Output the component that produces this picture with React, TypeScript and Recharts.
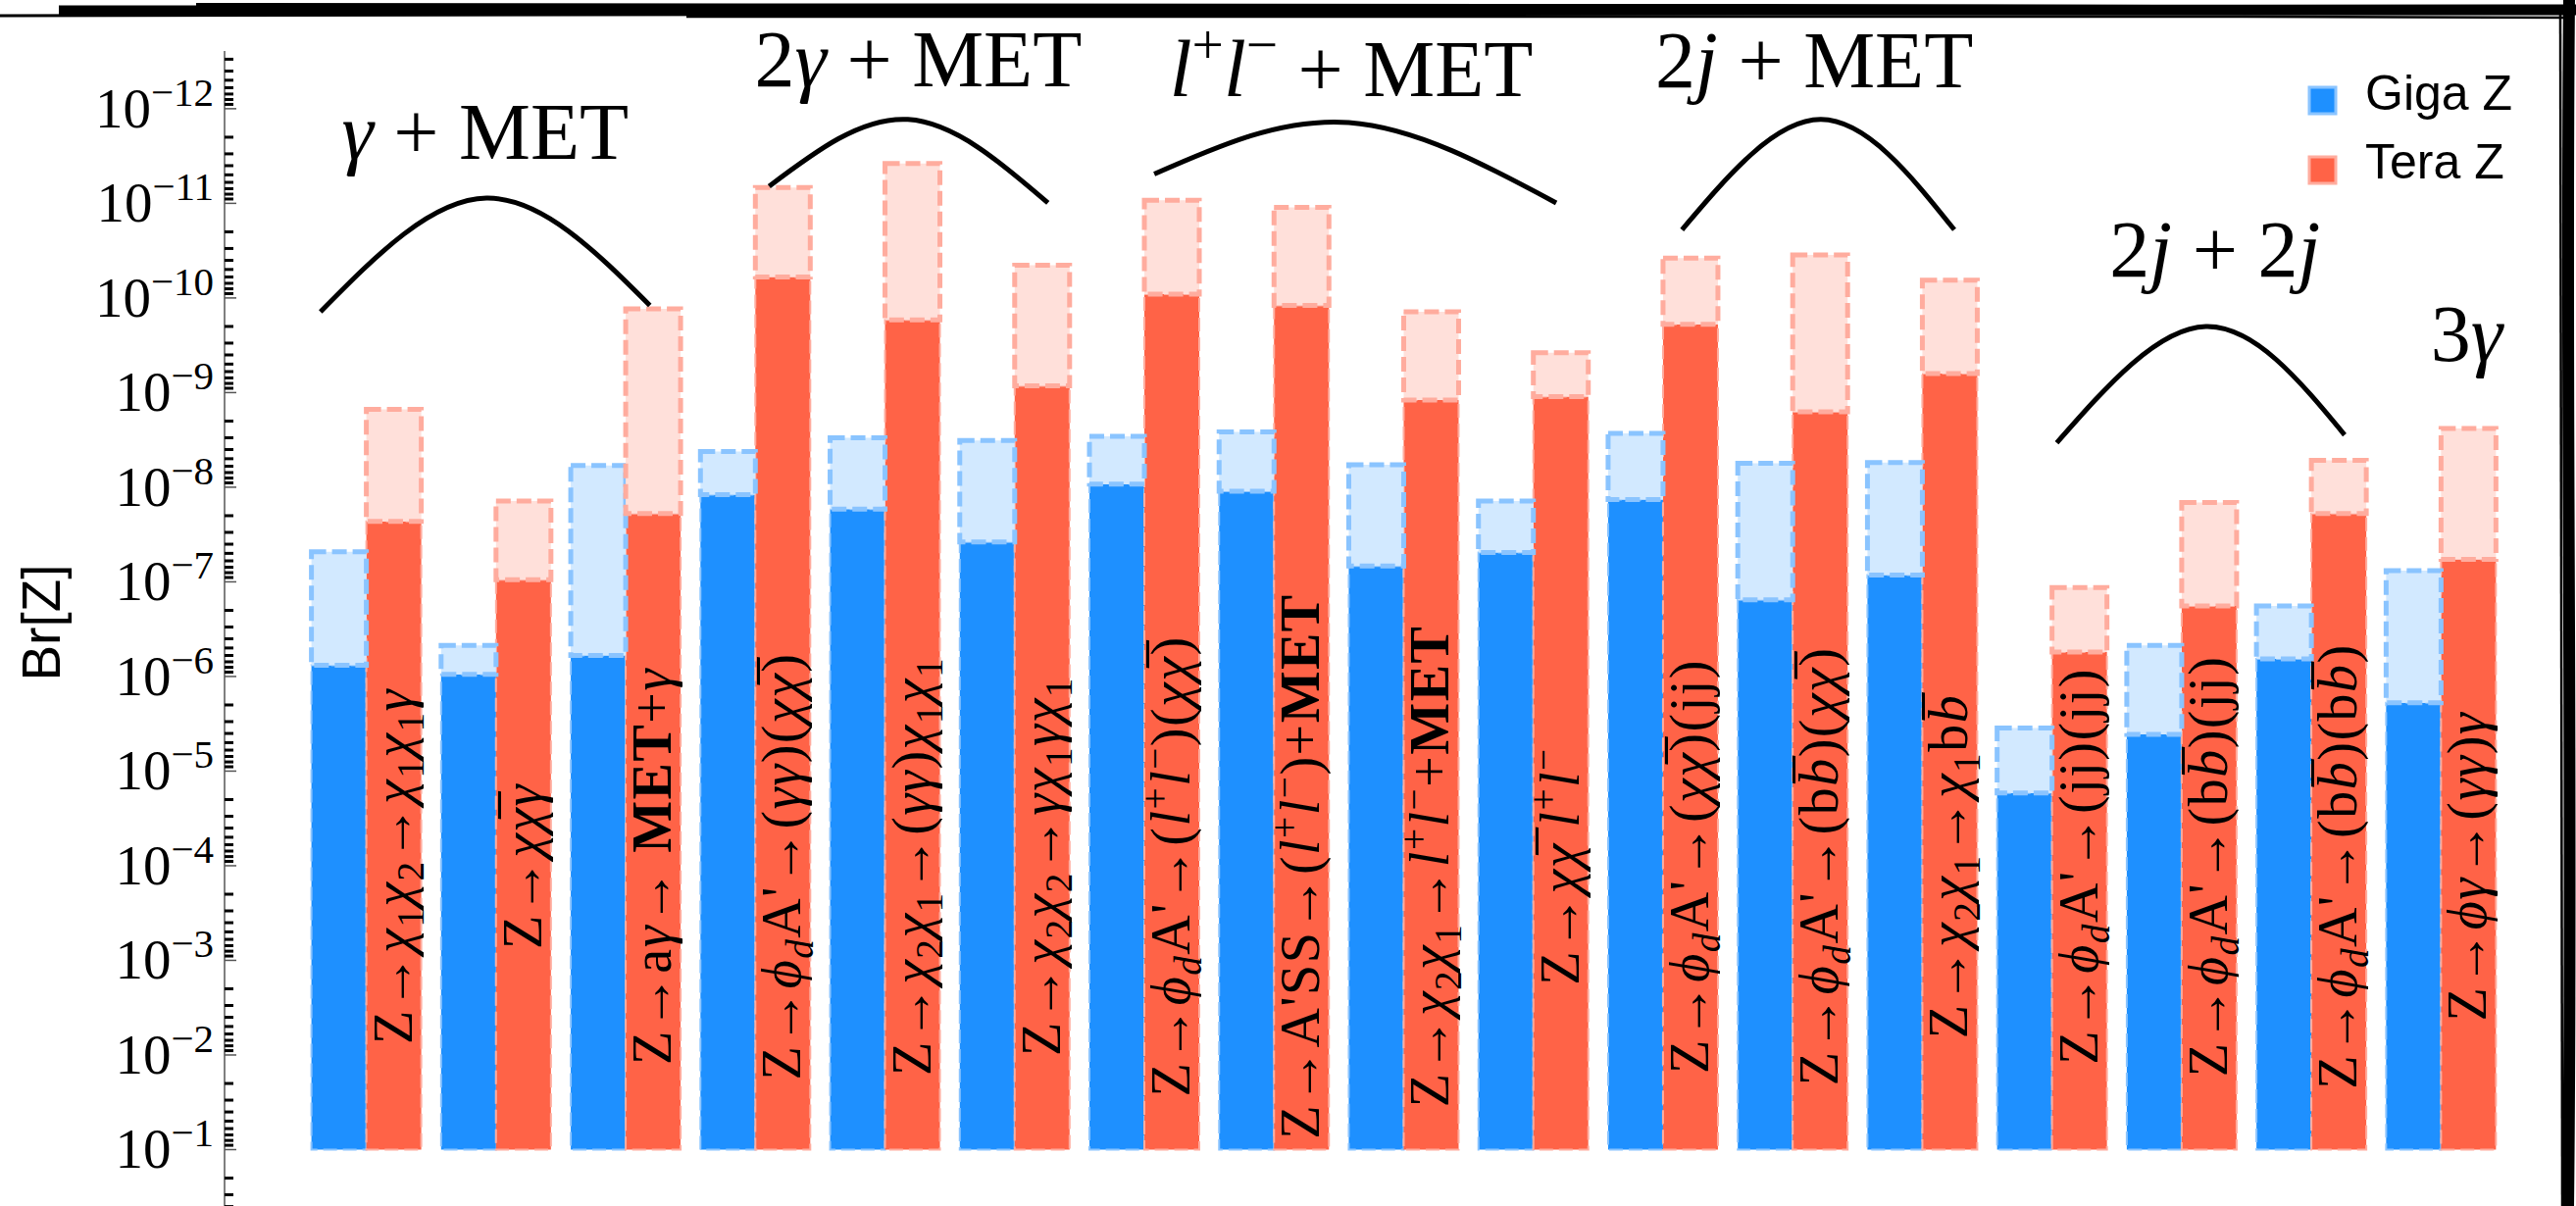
import React from "react";
import { ComposedChart, Bar, Line, Scatter, XAxis, YAxis, Legend, LabelList } from "recharts";

// decay channels; "_x" sub, "^x" sup, "~x" overline, "$..$" italic, "#..#" bold
const categories = [
  "Z→χ_1χ_2→χ_1χ_1γ",
  "Z→χ~χγ",
  "Z→aγ→ #MET#+γ",
  "Z→ϕ_dA'→(γγ)(χ~χ)",
  "Z→χ_2χ_1→(γγ)χ_1χ_1",
  "Z→χ_2χ_2→γχ_1γχ_1",
  "Z→ϕ_dA'→($l$^+$l$^−)(χ~χ)",
  "Z→A'SS→($l$^+$l$^−)+#MET#",
  "Z→χ_2χ_1→$l$^+$l$^−+#MET#",
  "Z→χ~χ $l$^+$l$^−",
  "Z→ϕ_dA'→(χ~χ)(jj)",
  "Z→ϕ_dA'→(b$~b$)(χ~χ)",
  "Z→χ_2χ_1→χ_1b$~b$",
  "Z→ϕ_dA'→(jj)(jj)",
  "Z→ϕ_dA'→(b$~b$)(jj)",
  "Z→ϕ_dA'→(b$~b$)(b$~b$)",
  "Z→ϕγ→(γγ)γ",
];

// solid part and dashed (lighter) reach, Br values
const gigaZ = [7.6e-7, 9.5e-7, 6.0e-7, 1.2e-8, 1.7e-8, 3.8e-8, 9.3e-9, 1.1e-8, 6.8e-8, 4.9e-8, 1.35e-8, 1.55e-7, 8.5e-8, 1.7e-5, 4.1e-6, 6.5e-7, 1.9e-6];
const gigaZReach = [4.8e-8, 4.7e-7, 5.9e-9, 4.2e-9, 3.0e-9, 3.2e-9, 2.9e-9, 2.6e-9, 5.8e-9, 1.4e-8, 2.7e-9, 5.6e-9, 5.5e-9, 3.5e-6, 4.7e-7, 1.8e-7, 7.6e-8];
const teraZ = [2.3e-8, 9.5e-8, 1.9e-8, 6.0e-11, 1.7e-10, 8.5e-10, 9.1e-11, 1.2e-10, 1.2e-9, 1.1e-9, 1.9e-10, 1.6e-9, 6.3e-10, 5.5e-7, 1.8e-7, 1.9e-8, 5.8e-8];
const teraZReach = [1.5e-9, 1.4e-8, 1.3e-10, 6.8e-12, 3.8e-12, 4.5e-11, 9.3e-12, 1.1e-11, 1.4e-10, 3.8e-10, 3.8e-11, 3.5e-11, 6.5e-11, 1.15e-7, 1.45e-8, 5.2e-9, 2.4e-9];
const barFloor = 0.1;

const tickExponents = [1, 2, 3, 4, 5, 6, 7, 8, 9, 10, 11, 12];
const brTop = Math.pow(10, -12.61);
const brBottom = 1;

// group brackets, x in category units
const groupNames = ["γ + MET", "2γ + MET", "$l$^+$l$^− + MET", "2$j$ + MET", "2$j$ + 2$j$", "3γ"];
const groupPos = [0.92, 4.26, 7.6, 11.17, 14.26, 16.2];
const groupBr = [3.4e-12, 5.8e-13, 7.3e-13, 6.0e-13, 6.0e-11, 4.6e-10];
const arcPos = [
  [-0.35, 0.93, 2.19],
  [3.11, 4.18, 5.26],
  [6.08, 7.58, 9.18],
  [10.15, 11.22, 12.25],
  [13.04, 14.19, 15.26],
];
const arcBr = [
  [1.4e-10, 8.8e-12, 1.2e-10],
  [6.6e-12, 1.3e-12, 9.9e-12],
  [4.9e-12, 1.4e-12, 9.9e-12],
  [1.9e-11, 1.3e-12, 1.9e-11],
  [3.4e-9, 2.0e-10, 2.8e-9],
];

const BLUE = "#1E90FF";
const RED = "#FF6347";
const BLUE_LIGHT = "#D2E9FF";
const RED_LIGHT = "#FFE0DA";
const BLUE_EDGE = "#8AC4FF";
const RED_EDGE = "#FFAC9E";
const SERIF = "'Liberation Serif', 'DejaVu Serif', serif";
const SANS = "'Liberation Sans', Arial, sans-serif";

const rows = categories.map((name, i) => ({
  name,
  gigaSolid: [barFloor, gigaZ[i]],
  gigaLight: [gigaZ[i], gigaZReach[i]],
  teraSolid: [barFloor, teraZ[i]],
  teraLight: [teraZ[i], teraZReach[i]],
}));

const arcs = arcPos.map((xs, a) => xs.map((pos, j) => ({ pos, br: arcBr[a][j] })));
const groupRows = groupNames.map((text, i) => ({ pos: groupPos[i], br: groupBr[i], text }));

const tickValues: number[] = [];
for (let e = 0; e <= 13; e++) {
  for (let m = 1; m <= 9; m++) {
    const v = m * Math.pow(10, -e);
    if (v >= brTop && v <= brBottom) tickValues.push(v);
  }
}

type Piece = { s: string; it: boolean; bf: boolean; shift: number };

function parse(src: string): Piece[] {
  const out: Piece[] = [];
  let it = false;
  let bf = false;
  for (let i = 0; i < src.length; i++) {
    let c = src[i];
    if (c === "$") { it = !it; continue; }
    if (c === "#") { bf = !bf; continue; }
    let shift = 0;
    if (c === "_" || c === "^") {
      shift = c === "_" ? 1 : -1;
      i++;
      c = src[i];
    }
    let over = false;
    if (c === "~") { over = true; i++; c = src[i]; }
    const italic = it || /[χγϕφ]/.test(c) || (shift === 1 && /[a-z]/.test(c));
    out.push({ s: over ? c + "\u0305" : c, it: italic, bf, shift });
  }
  return out;
}

function MathText({ src, size, x = 0, y = 0, anchor = "middle", transform, spacing = 0 }: any) {
  let cur = 0;
  return (
    <text x={x} y={y} transform={transform} textAnchor={anchor} fontFamily={SERIF} fontSize={size} fill="#000" letterSpacing={spacing} style={{ whiteSpace: "pre" }}>
      {parse(src).map((p, i) => {
        const target = p.shift === 1 ? size * 0.22 : p.shift === -1 ? -size * 0.4 : 0;
        const dy = target - cur;
        cur = target;
        return (
          <tspan key={i} dy={dy} fontSize={p.shift ? size * 0.7 : size} fontStyle={p.it ? "italic" : "normal"} fontWeight={p.bf ? "bold" : "normal"}>
            {p.s}
          </tspan>
        );
      })}
    </text>
  );
}

function BarCaption(props: any) {
  const vb = props.viewBox ?? props;
  const cx = vb.x + vb.width / 2;
  const bottom = Math.max(vb.y, vb.y + vb.height);
  return <MathText src={props.value} size={56} spacing={1.5} transform={`translate(${cx + 18} ${bottom - 289}) rotate(-90)`} />;
}

function EdgeTick(props: any) {
  const { x, y, payload, side } = props;
  const e = Math.log10(payload.value);
  const major = Math.abs(e - Math.round(e)) < 1e-6;
  const k = -Math.round(e);
  const dir = side === "left" ? 1 : -1;
  return (
    <g>
      <line x1={x} x2={x + dir * (major ? 12 : 9)} y1={y} y2={y} stroke={major ? "#555" : "#000"} strokeWidth={major ? 1.5 : 3} />
      {side === "left" && major && tickExponents.includes(k) && (
        <text x={x - 11} y={y + 19} textAnchor="end" fontFamily={SERIF} fontSize={57} fill="#000">
          10
          <tspan dy={-22} fontSize={41}>{`−${k}`}</tspan>
        </text>
      )}
    </g>
  );
}

function BrLabel(props: any) {
  const vb = props.viewBox;
  return (
    <text transform={`translate(${vb.x + 61} ${vb.y + 583}) rotate(-90)`} textAnchor="middle" fontFamily={SANS} fontSize={55} fill="#000">
      Br[Z]
    </text>
  );
}

function LegendBox() {
  return (
    <svg width={260} height={130}>
      <rect x={5} y={14} width={27} height={27} fill={BLUE} stroke={BLUE_EDGE} strokeWidth={3} />
      <text x={62} y={37} fontFamily={SANS} fontSize={50} fill="#000">Giga Z</text>
      <rect x={5} y={85} width={27} height={27} fill={RED} stroke={RED_EDGE} strokeWidth={3} />
      <text x={62} y={107} fontFamily={SANS} fontSize={50} fill="#000">Tera Z</text>
    </svg>
  );
}

function GroupLabel(props: any) {
  const { cx, cy, payload } = props;
  return <MathText src={payload.text} size={82} x={cx} y={cy} />;
}

function SketchFrame() {
  return (
    <svg width={2627} height={1230} style={{ position: "absolute", left: 0, top: 0, pointerEvents: "none" }}>
      <path d="M 60 11 C 700 7, 1500 15, 2627 10" stroke="#000" strokeWidth={11} fill="none" />
      <path d="M 0 16 C 300 13, 650 18, 1100 14" stroke="#000" strokeWidth={3} fill="none" />
      <path d="M 200 5 C 900 8, 1800 4, 2620 8" stroke="#000" strokeWidth={4} fill="none" />
      <path d="M 700 17 C 1400 19, 2000 15, 2622 18" stroke="#000" strokeWidth={2.5} fill="none" />
      <path d="M 2620 0 C 2616 400, 2624 800, 2619 1230" stroke="#000" strokeWidth={12} fill="none" />
      <path d="M 2611 15 C 2613 500, 2610 900, 2613 1230" stroke="#000" strokeWidth={2.5} fill="none" />
    </svg>
  );
}

const pad = { left: 78, right: 35 };

export default function App() {
  return (
    <div style={{ position: "fixed", left: 0, top: 0, width: 2627, height: 1230, overflow: "hidden", background: "#fff" }}>
      <ComposedChart width={2627} height={1269} data={rows} margin={{ top: 52, right: 37, bottom: 0, left: 0 }} barCategoryGap={10.6} barGap={0}>
        <XAxis xAxisId="solid" dataKey="name" hide padding={pad} />
        <XAxis xAxisId="light" dataKey="name" hide padding={pad} />
        <XAxis
          xAxisId="arc"
          type="number"
          dataKey="pos"
          domain={[-0.5, 16.5]}
          orientation="top"
          height={0}
          padding={pad}
          tick={false}
          tickLine={false}
          axisLine={{ stroke: "#555", strokeWidth: 1.5 }}
        />
        <YAxis
          type="number"
          scale="log"
          domain={[brTop, brBottom]}
          reversed
          ticks={tickValues}
          interval={0}
          width={229}
          tickSize={0}
          tickMargin={0}
          tickLine={false}
          axisLine={{ stroke: "#555", strokeWidth: 1.5 }}
          tick={(p: any) => <EdgeTick {...p} side="left" />}
          label={(p: any) => <BrLabel {...p} />}
        />
        <YAxis
          yAxisId="r"
          orientation="right"
          type="number"
          scale="log"
          domain={[brTop, brBottom]}
          reversed
          ticks={tickValues}
          interval={0}
          width={0}
          tickSize={0}
          tickMargin={0}
          tickLine={false}
          axisLine={{ stroke: "#555", strokeWidth: 1.5 }}
          tick={(p: any) => <EdgeTick {...p} side="right" />}
        />
        <Bar xAxisId="solid" dataKey="gigaSolid" fill={BLUE} stroke={BLUE_EDGE} strokeWidth={2} strokeDasharray="14 6" isAnimationActive={false} />
        <Bar xAxisId="solid" dataKey="teraSolid" fill={RED} stroke={RED_EDGE} strokeWidth={2} strokeDasharray="14 6" isAnimationActive={false}>
          <LabelList dataKey="name" content={BarCaption} />
        </Bar>
        <Bar xAxisId="light" dataKey="gigaLight" fill={BLUE_LIGHT} stroke={BLUE_EDGE} strokeWidth={5} strokeDasharray="15 6" isAnimationActive={false} />
        <Bar xAxisId="light" dataKey="teraLight" fill={RED_LIGHT} stroke={RED_EDGE} strokeWidth={5} strokeDasharray="15 6" isAnimationActive={false} />
        {arcs.map((pts, a) => (
          <Line
            key={a}
            xAxisId="arc"
            data={pts}
            dataKey="br"
            type="natural"
            stroke="#000"
            strokeWidth={5}
            dot={false}
            activeDot={false}
            isAnimationActive={false}
            legendType="none"
          />
        ))}
        <Scatter xAxisId="arc" data={groupRows} dataKey="br" shape={GroupLabel} isAnimationActive={false} legendType="none" />
        <Legend
          layout="horizontal"
          verticalAlign="middle"
          align="center"
          wrapperStyle={{ left: 2350, top: 75, width: 260, height: 130 }}
          content={() => <LegendBox />}
        />
      </ComposedChart>
      <SketchFrame />
    </div>
  );
}
